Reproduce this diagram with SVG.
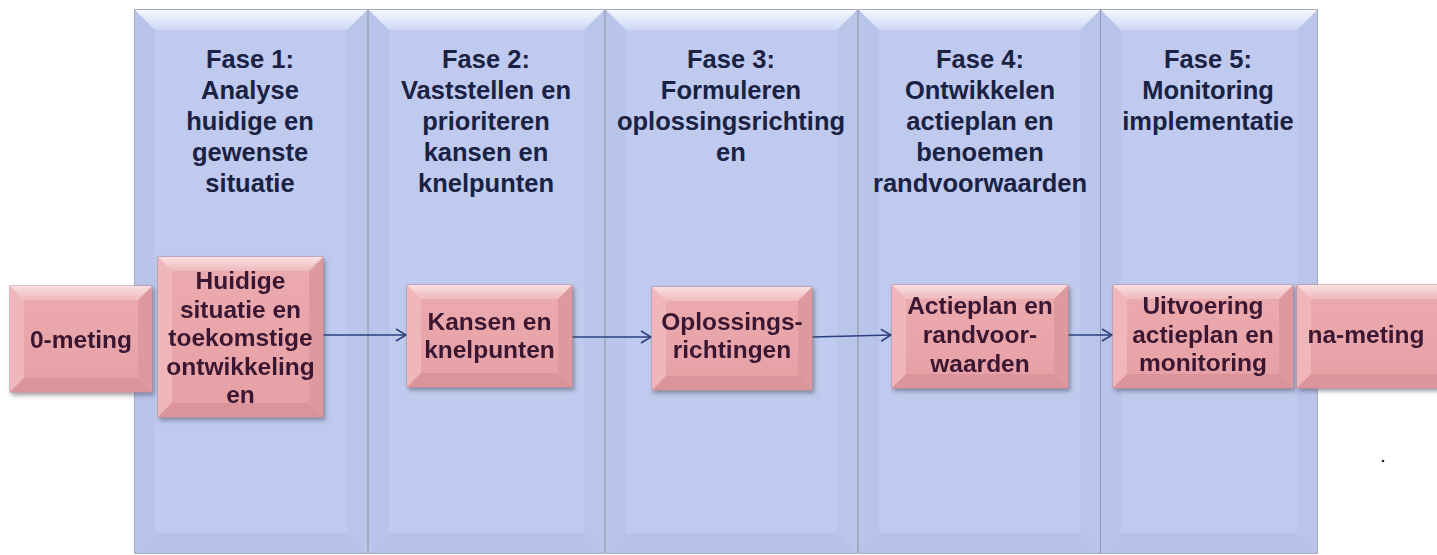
<svg xmlns="http://www.w3.org/2000/svg" width="1437" height="555" viewBox="0 0 1437 555">
<defs>
<linearGradient id="colTop" x1="0" y1="0" x2="0" y2="1">
<stop offset="0" stop-color="#f6f8fe"/><stop offset="1" stop-color="#cfd8f3"/>
</linearGradient>
<linearGradient id="pinkTop" x1="0" y1="0" x2="0" y2="1">
<stop offset="0" stop-color="#f9dfe0"/><stop offset="1" stop-color="#efbabd"/>
</linearGradient>
<linearGradient id="pinkBody" x1="0" y1="0" x2="0" y2="1">
<stop offset="0" stop-color="#ecabaf"/><stop offset="1" stop-color="#e6a0a5"/>
</linearGradient>
<filter id="shadow" x="-10%" y="-10%" width="125%" height="130%">
<feDropShadow dx="2" dy="3" stdDeviation="2" flood-color="#4a4a60" flood-opacity="0.5"/>
</filter>
<marker id="arr" viewBox="0 0 12 14" refX="11" refY="7" markerWidth="12" markerHeight="14" markerUnits="userSpaceOnUse" orient="auto">
<path d="M1,1 L11,7 L1,13" fill="none" stroke="#2b3f7e" stroke-width="1.5"/>
</marker>
<style>
.col{fill:#bfcaee;stroke:#8890ad;stroke-width:1.5}
.ctop{fill:url(#colTop)}
.cl{fill:#b9c4ea}
.cr{fill:#bac5ea}
.cb{fill:#b6c2e8}
.pb{fill:url(#pinkBody);stroke:#b98a96;stroke-width:1}
.pt{fill:url(#pinkTop)}
.pl{fill:#efb7ba}
.pr{fill:#de999f}
.pbot{fill:#da949a}
.title{font-family:"Liberation Sans",Arial,sans-serif;font-weight:bold;font-size:25.5px;fill:#1a2244;text-anchor:middle}
.lbl{font-family:"Liberation Sans",Arial,sans-serif;font-weight:bold;font-size:24.5px;fill:#3b1831;text-anchor:middle}
.con{stroke:#2b3f7e;stroke-width:1.6;fill:none;marker-end:url(#arr)}
</style>
</defs>
<rect width="1437" height="555" fill="#ffffff"/>

<g id="fase1">
<rect class="col" x="135" y="10" width="232" height="543"/>
<polygon class="cl" points="135,10 155,30 155,533 135,553"/>
<polygon class="cr" points="367,10 367,553 347,533 347,30"/>
<polygon class="cb" points="135,553 155,533 347,533 367,553"/>
<polygon class="ctop" points="135,10 367,10 347,30 155,30"/>
<text class="title" x="250" y="68">Fase 1:</text>
<text class="title" x="250" y="99">Analyse</text>
<text class="title" x="250" y="130">huidige en</text>
<text class="title" x="250" y="161">gewenste</text>
<text class="title" x="250" y="192">situatie</text>
</g>

<g id="fase2">
<rect class="col" x="369" y="10" width="235" height="543"/>
<polygon class="cl" points="369,10 389,30 389,533 369,553"/>
<polygon class="cr" points="604,10 604,553 584,533 584,30"/>
<polygon class="cb" points="369,553 389,533 584,533 604,553"/>
<polygon class="ctop" points="369,10 604,10 584,30 389,30"/>
<text class="title" x="486" y="68">Fase 2:</text>
<text class="title" x="486" y="99">Vaststellen en</text>
<text class="title" x="486" y="130">prioriteren</text>
<text class="title" x="486" y="161">kansen en</text>
<text class="title" x="486" y="192">knelpunten</text>
</g>

<g id="fase3">
<rect class="col" x="606" y="10" width="251" height="543"/>
<polygon class="cl" points="606,10 626,30 626,533 606,553"/>
<polygon class="cr" points="857,10 857,553 837,533 837,30"/>
<polygon class="cb" points="606,553 626,533 837,533 857,553"/>
<polygon class="ctop" points="606,10 857,10 837,30 626,30"/>
<text class="title" x="731" y="68">Fase 3:</text>
<text class="title" x="731" y="99">Formuleren</text>
<text class="title" x="731" y="130">oplossingsrichting</text>
<text class="title" x="731" y="161">en</text>
</g>

<g id="fase4">
<rect class="col" x="859" y="10" width="241" height="543"/>
<polygon class="cl" points="859,10 879,30 879,533 859,553"/>
<polygon class="cr" points="1100,10 1100,553 1080,533 1080,30"/>
<polygon class="cb" points="859,553 879,533 1080,533 1100,553"/>
<polygon class="ctop" points="859,10 1100,10 1080,30 879,30"/>
<text class="title" x="980" y="68">Fase 4:</text>
<text class="title" x="980" y="99">Ontwikkelen</text>
<text class="title" x="980" y="130">actieplan en</text>
<text class="title" x="980" y="161">benoemen</text>
<text class="title" x="980" y="192">randvoorwaarden</text>
</g>

<g id="fase5">
<rect class="col" x="1101" y="10" width="216" height="543"/>
<polygon class="cl" points="1101,10 1121,30 1121,533 1101,553"/>
<polygon class="cr" points="1317,10 1317,553 1297,533 1297,30"/>
<polygon class="cb" points="1101,553 1121,533 1297,533 1317,553"/>
<polygon class="ctop" points="1101,10 1317,10 1297,30 1121,30"/>
<text class="title" x="1208" y="68">Fase 5:</text>
<text class="title" x="1208" y="99">Monitoring</text>
<text class="title" x="1208" y="130">implementatie</text>
</g>

<g id="connectors">
<line class="con" x1="323" y1="335" x2="406" y2="335"/>
<line class="con" x1="572" y1="337" x2="651" y2="337"/>
<line class="con" x1="812" y1="337" x2="891" y2="335"/>
<line class="con" x1="1068" y1="335" x2="1112" y2="335"/>
</g>

<g id="nulmeting" filter="url(#shadow)">
<rect class="pb" x="10" y="286" width="142" height="106"/>
<polygon class="pl" points="10,286 24,300 24,378 10,392"/>
<polygon class="pr" points="152,286 152,392 138,378 138,300"/>
<polygon class="pbot" points="10,392 24,378 138,378 152,392"/>
<polygon class="pt" points="10,286 152,286 138,300 24,300"/>
<text class="lbl" x="81" y="348">0-meting</text>
</g>

<g id="huidige" filter="url(#shadow)">
<rect class="pb" x="158" y="257" width="165" height="160"/>
<polygon class="pl" points="158,257 172,271 172,403 158,417"/>
<polygon class="pr" points="323,257 323,417 309,403 309,271"/>
<polygon class="pbot" points="158,417 172,403 309,403 323,417"/>
<polygon class="pt" points="158,257 323,257 309,271 172,271"/>
<text class="lbl" x="240.5" y="289">Huidige</text>
<text class="lbl" x="240.5" y="317.5">situatie en</text>
<text class="lbl" x="240.5" y="346">toekomstige</text>
<text class="lbl" x="240.5" y="374.5">ontwikkeling</text>
<text class="lbl" x="240.5" y="403">en</text>
</g>

<g id="kansen" filter="url(#shadow)">
<rect class="pb" x="407" y="285" width="165" height="102"/>
<polygon class="pl" points="407,285 421,299 421,373 407,387"/>
<polygon class="pr" points="572,285 572,387 558,373 558,299"/>
<polygon class="pbot" points="407,387 421,373 558,373 572,387"/>
<polygon class="pt" points="407,285 572,285 558,299 421,299"/>
<text class="lbl" x="489.5" y="330">Kansen en</text>
<text class="lbl" x="489.5" y="358">knelpunten</text>
</g>

<g id="oplossingen" filter="url(#shadow)">
<rect class="pb" x="652" y="287" width="160" height="103"/>
<polygon class="pl" points="652,287 666,301 666,376 652,390"/>
<polygon class="pr" points="812,287 812,390 798,376 798,301"/>
<polygon class="pbot" points="652,390 666,376 798,376 812,390"/>
<polygon class="pt" points="652,287 812,287 798,301 666,301"/>
<text class="lbl" x="732" y="330">Oplossings-</text>
<text class="lbl" x="732" y="358">richtingen</text>
</g>

<g id="actieplan" filter="url(#shadow)">
<rect class="pb" x="892" y="285" width="176" height="103"/>
<polygon class="pl" points="892,285 906,299 906,374 892,388"/>
<polygon class="pr" points="1068,285 1068,388 1054,374 1054,299"/>
<polygon class="pbot" points="892,388 906,374 1054,374 1068,388"/>
<polygon class="pt" points="892,285 1068,285 1054,299 906,299"/>
<text class="lbl" x="980" y="314">Actieplan en</text>
<text class="lbl" x="980" y="343">randvoor-</text>
<text class="lbl" x="980" y="372">waarden</text>
</g>

<g id="uitvoering" filter="url(#shadow)">
<rect class="pb" x="1113" y="285" width="180" height="103"/>
<polygon class="pl" points="1113,285 1127,299 1127,374 1113,388"/>
<polygon class="pr" points="1293,285 1293,388 1279,374 1279,299"/>
<polygon class="pbot" points="1113,388 1127,374 1279,374 1293,388"/>
<polygon class="pt" points="1113,285 1293,285 1279,299 1127,299"/>
<text class="lbl" x="1203" y="314">Uitvoering</text>
<text class="lbl" x="1203" y="343">actieplan en</text>
<text class="lbl" x="1203" y="371">monitoring</text>
</g>

<g id="nameting" filter="url(#shadow)">
<rect class="pb" x="1297" y="285" width="150" height="103"/>
<polygon class="pl" points="1297,285 1311,299 1311,374 1297,388"/>
<polygon class="pbot" points="1297,388 1311,374 1447,374 1447,388"/>
<polygon class="pt" points="1297,285 1447,285 1447,299 1311,299"/>
<text class="lbl" x="1366" y="343">na-meting</text>
</g>

<circle cx="1383" cy="461" r="1.3" fill="#222"/>
</svg>
